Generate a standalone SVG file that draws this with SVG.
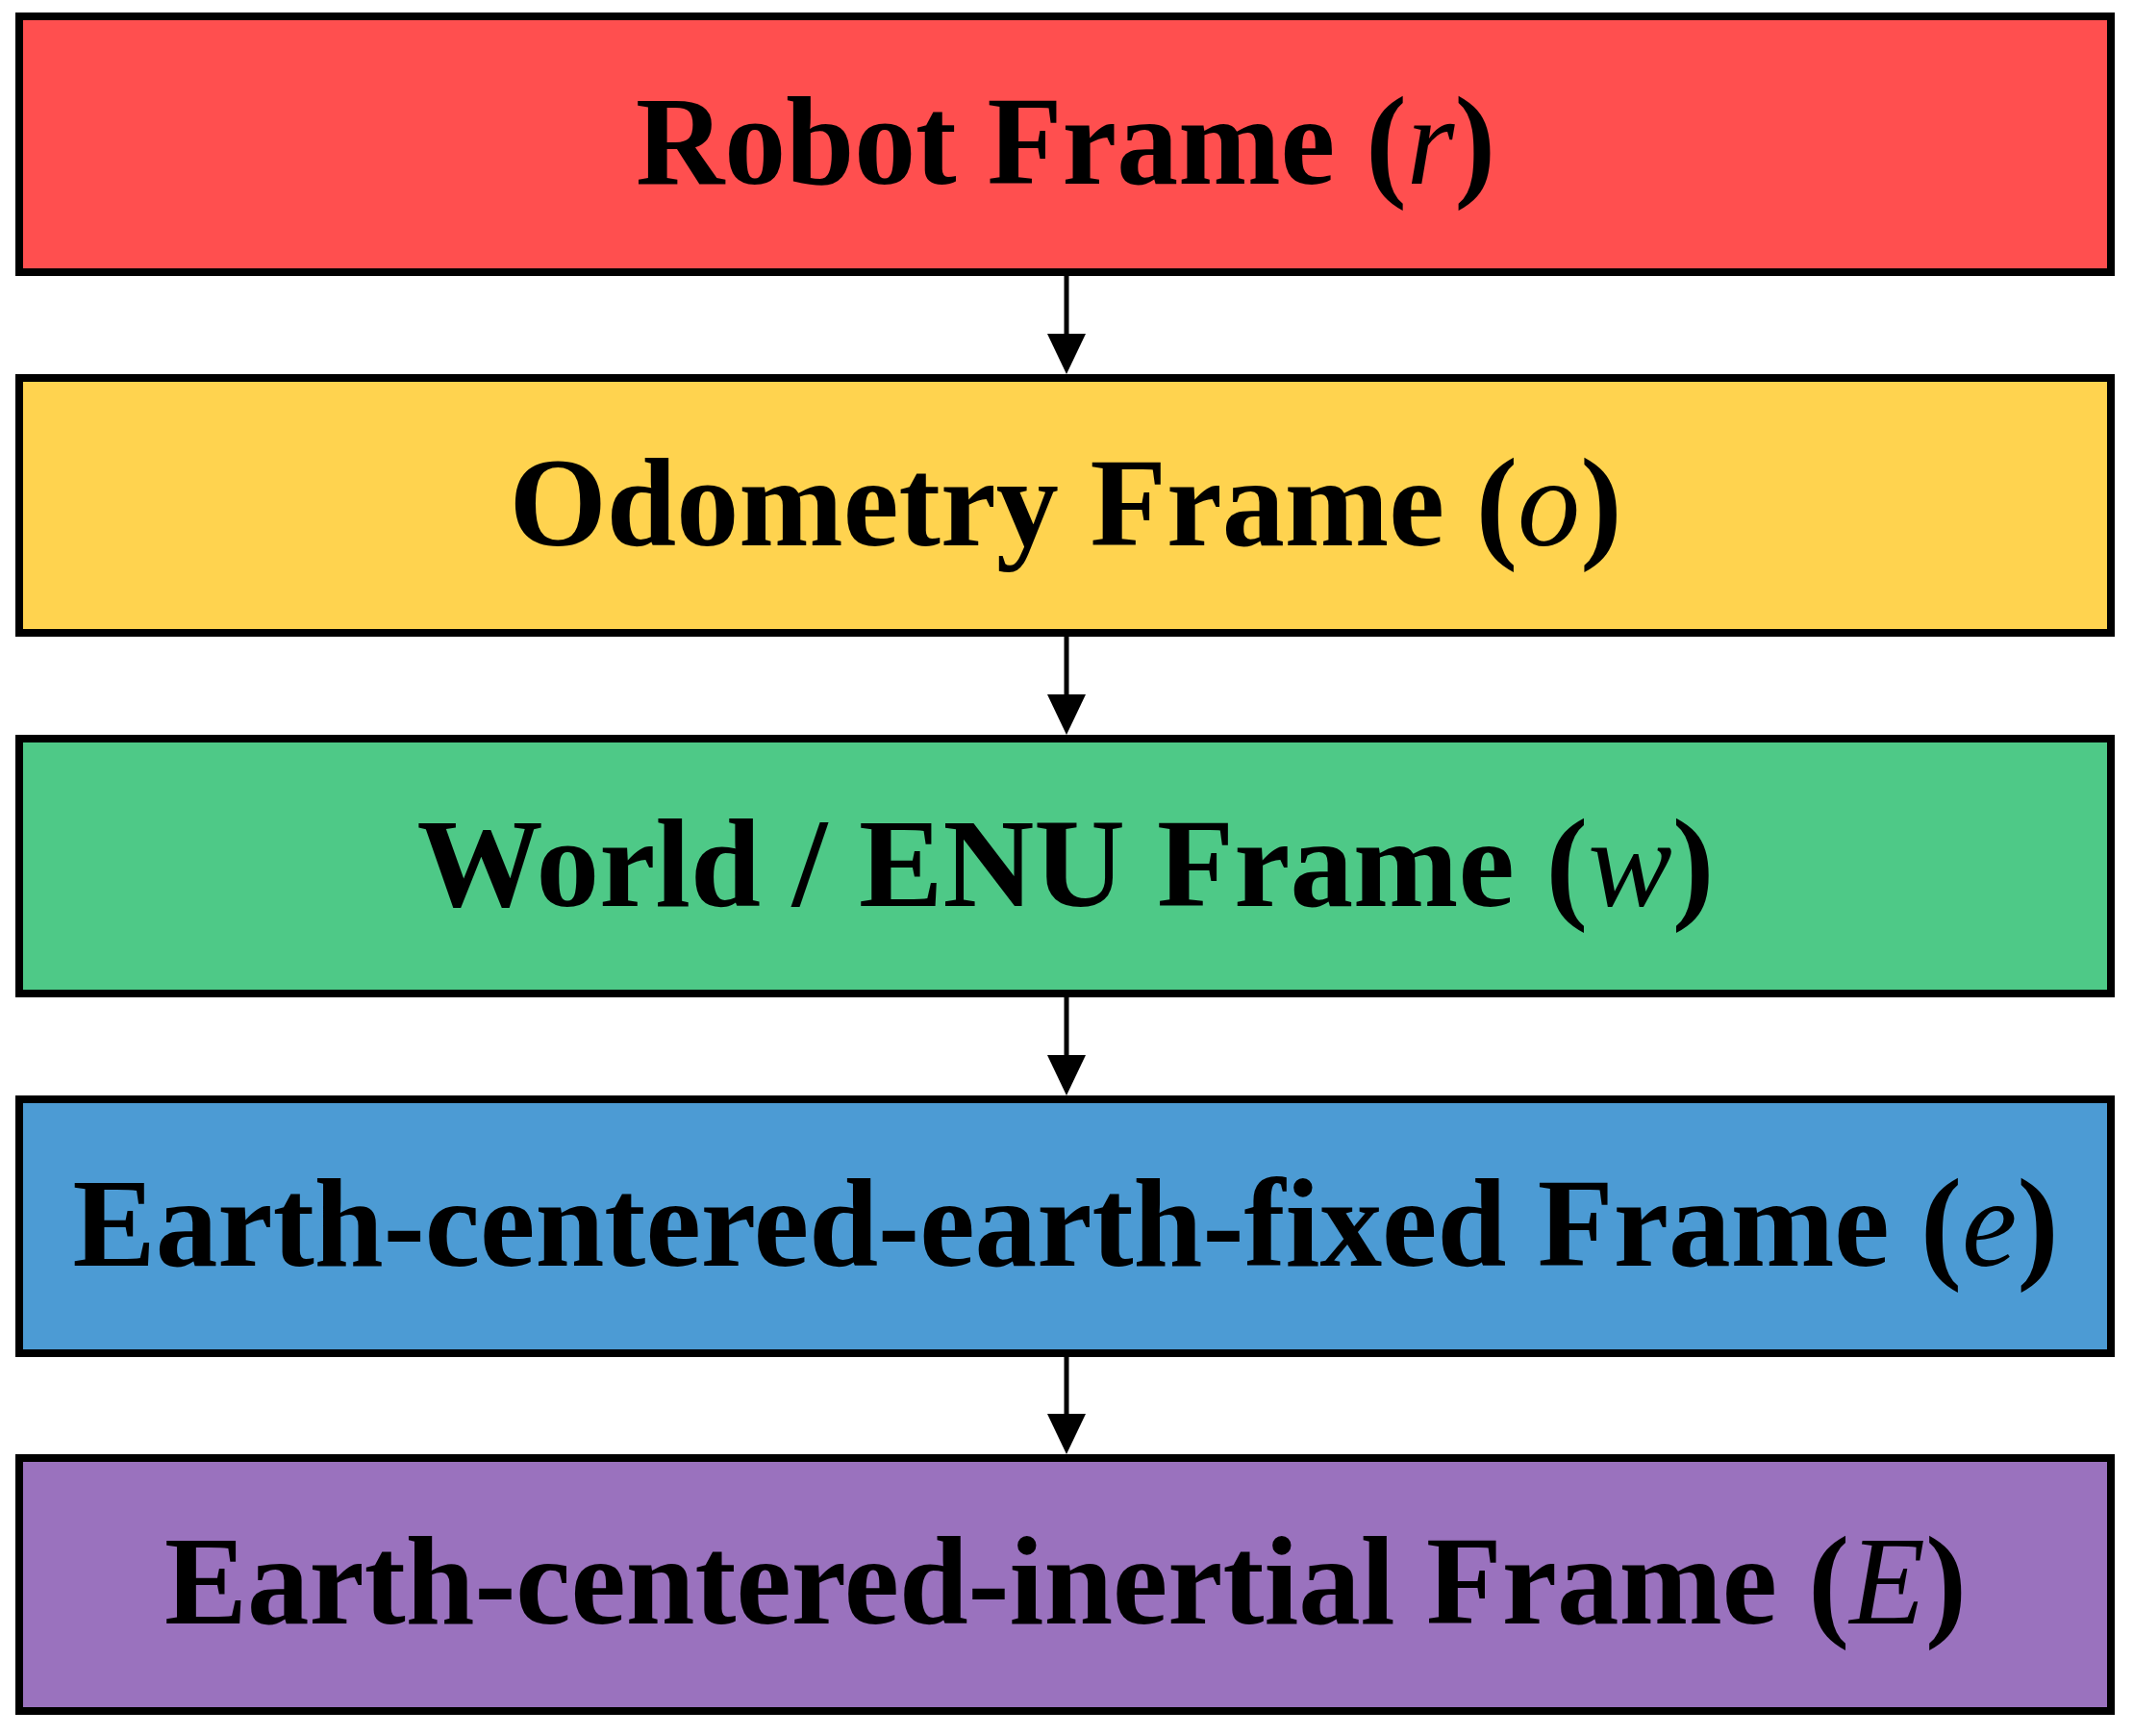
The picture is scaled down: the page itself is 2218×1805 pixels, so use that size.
<svg xmlns="http://www.w3.org/2000/svg" width="2218" height="1805" viewBox="0 0 2218 1805">
<style>
.box{stroke:#000;stroke-width:8}
.t{font-family:"Liberation Serif","DejaVu Serif",serif;font-weight:bold;font-size:132px;fill:#000;text-anchor:middle}
.i{font-style:italic;font-weight:normal}
.c{stroke:#000;stroke-width:5;fill:none}
.h{fill:#000}
</style>
<g id="n1"><rect class="box" x="20" y="17" width="2175" height="266" fill="#FF4F4F"/><text class="t" x="1108" y="191" textLength="894" lengthAdjust="spacingAndGlyphs">Robot Frame (<tspan class="i">r</tspan>)</text></g>
<g id="n2"><rect class="box" x="20" y="393" width="2175" height="265" fill="#FFD34F"/><text class="t" x="1108" y="567" textLength="1157" lengthAdjust="spacingAndGlyphs">Odometry Frame (<tspan class="i">o</tspan>)</text></g>
<g id="n3"><rect class="box" x="20" y="768" width="2175" height="265" fill="#4EC987"/><text class="t" x="1108" y="942" textLength="1349" lengthAdjust="spacingAndGlyphs">World / ENU Frame (<tspan class="i">w</tspan>)</text></g>
<g id="n4"><rect class="box" x="20" y="1143" width="2175" height="264" fill="#4C9BD4"/><text class="t" x="1108" y="1316" textLength="2065" lengthAdjust="spacingAndGlyphs">Earth-centered-earth-fixed Frame (<tspan class="i">e</tspan>)</text></g>
<g id="n5"><rect class="box" x="20" y="1516" width="2175" height="263" fill="#9A72BE"/><text class="t" x="1108" y="1688" textLength="1874" lengthAdjust="spacingAndGlyphs">Earth-centered-inertial Frame (<tspan class="i">E</tspan>)</text></g>
<g id="connectors">
<line class="c" x1="1109" y1="287" x2="1109" y2="350"/><polygon class="h" points="1089,347 1129,347 1109,389"/>
<line class="c" x1="1109" y1="662" x2="1109" y2="725"/><polygon class="h" points="1089,722 1129,722 1109,764"/>
<line class="c" x1="1109" y1="1037" x2="1109" y2="1100"/><polygon class="h" points="1089,1097 1129,1097 1109,1139"/>
<line class="c" x1="1109" y1="1411" x2="1109" y2="1473"/><polygon class="h" points="1089,1470 1129,1470 1109,1512"/>
</g>
</svg>
